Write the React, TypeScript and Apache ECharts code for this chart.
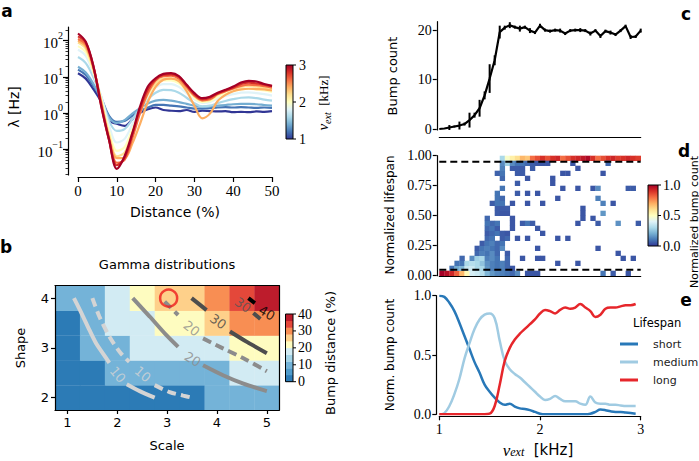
import React, { useEffect, useRef } from "react";
import * as echarts from "echarts";

// ---------------- Panel a : rate vs distance ----------------
const distance = [0, 2, 4, 6, 8, 10, 12, 14, 16, 18, 20, 22, 24, 26, 28, 30, 32, 34, 36, 38, 40, 42, 44, 46, 48, 50];
const nuExt = [1.0, 1.2, 1.4, 1.6, 1.8, 2.0, 2.2, 2.4, 2.6, 2.8, 3.0];
// log10 of the rate (Hz), one row per nu_ext
const log10Rate = [
  [1.1, 0.95, 0.65, 0.3, -0.22, -0.3, -0.36, -0.18, 0.0, 0.1, 0.15, 0.08, 0.06, 0.05, 0.08, 0.03, 0.06, 0.05, 0.04, 0.05, 0.02, 0.03, 0.02, 0.04, 0.03, 0.05],
  [1.2, 1.05, 0.75, 0.4, -0.08, -0.25, -0.22, -0.08, 0.05, 0.15, 0.22, 0.22, 0.2, 0.18, 0.15, 0.12, 0.12, 0.13, 0.15, 0.16, 0.15, 0.16, 0.15, 0.14, 0.15, 0.14],
  [1.28, 1.12, 0.8, 0.38, -0.12, -0.28, -0.2, -0.02, 0.13, 0.26, 0.34, 0.36, 0.34, 0.3, 0.25, 0.2, 0.17, 0.18, 0.2, 0.22, 0.24, 0.25, 0.25, 0.24, 0.22, 0.2],
  [1.55, 1.38, 0.98, 0.45, -0.22, -0.5, -0.45, -0.18, 0.12, 0.38, 0.56, 0.64, 0.63, 0.56, 0.42, 0.27, 0.18, 0.2, 0.27, 0.33, 0.38, 0.42, 0.43, 0.41, 0.37, 0.34],
  [1.75, 1.58, 1.08, 0.45, -0.35, -0.82, -0.72, -0.32, 0.08, 0.45, 0.7, 0.8, 0.8, 0.72, 0.55, 0.38, 0.28, 0.3, 0.4, 0.47, 0.52, 0.56, 0.57, 0.55, 0.52, 0.48],
  [1.85, 1.68, 1.13, 0.38, -0.5, -1.05, -0.95, -0.45, 0.04, 0.5, 0.78, 0.9, 0.9, 0.82, 0.62, 0.42, 0.3, 0.33, 0.45, 0.55, 0.6, 0.65, 0.67, 0.65, 0.62, 0.58],
  [1.95, 1.78, 1.18, 0.3, -0.6, -1.2, -1.1, -0.55, 0.0, 0.52, 0.82, 0.95, 0.96, 0.88, 0.68, 0.46, 0.33, 0.36, 0.5, 0.6, 0.67, 0.72, 0.75, 0.73, 0.7, 0.66],
  [2.0, 1.84, 1.24, 0.3, -0.68, -1.25, -1.25, -0.85, -0.3, 0.3, 0.72, 0.92, 0.95, 0.88, 0.6, 0.2, -0.15, -0.02, 0.33, 0.5, 0.6, 0.65, 0.67, 0.66, 0.65, 0.62],
  [2.05, 1.9, 1.25, 0.25, -0.72, -1.38, -1.3, -0.7, 0.0, 0.55, 0.9, 1.02, 1.03, 0.95, 0.72, 0.48, 0.35, 0.38, 0.52, 0.6, 0.68, 0.75, 0.78, 0.77, 0.74, 0.7],
  [2.12, 1.95, 1.28, 0.2, -0.75, -1.45, -1.25, -0.6, 0.12, 0.65, 0.93, 1.05, 1.07, 1.0, 0.76, 0.52, 0.38, 0.42, 0.54, 0.62, 0.7, 0.8, 0.84, 0.82, 0.78, 0.74],
  [2.2, 1.97, 1.28, 0.18, -0.74, -1.55, -1.2, -0.56, 0.18, 0.73, 0.96, 1.08, 1.1, 1.02, 0.78, 0.55, 0.41, 0.45, 0.56, 0.64, 0.73, 0.84, 0.89, 0.87, 0.8, 0.75],
];
const rateDecades = [-1, 0, 1, 2];
const rateLogRange = [-1.72, 2.38];
const nuColorTicks = [1, 2, 3];

// ---------------- Panel b : gamma distributions ----------------
const gammaScale = [1, 1.5, 2, 2.5, 3, 3.5, 4, 4.5, 5];
const gammaShape = [2, 2.5, 3, 3.5, 4];
// bump distance (%), one row per shape (bottom to top), one column per scale
const bumpDistance = [
  [2, 2, 2, 2, 2, 2, 9, 9, 9],
  [2, 2, 9, 9, 9, 9, 9, 17, 17],
  [2, 9, 9, 17, 17, 17, 17, 22, 22],
  [2, 9, 17, 17, 22, 22, 26, 30, 30],
  [9, 9, 17, 22, 26, 26, 30, 34, 39],
];
const bumpDistanceTicks = [0, 10, 20, 30, 40];
const bumpDistanceBinWidth = 4;
const bumpDistanceColors = ["#2c7bb6", "#4f9bcb", "#74b3d8", "#a3d3e6", "#d2ebf3", "#fefcc0", "#fed08a", "#f88e53", "#e4483a", "#bd1c2c"];
const contourLines = [
  { level: 10, dashed: false, color: "#d4d4d4", segments: [[[1.13, 4.0], [1.29, 3.68], [1.44, 3.36], [1.58, 3.08], [1.71, 2.89], [1.84, 2.7]], [[2.19, 2.27], [2.45, 2.13], [2.75, 2.0]]] },
  { level: 10, dashed: true, color: "#d4d4d4", segments: [[[1.5, 4.0], [1.64, 3.63], [1.84, 3.23], [2.07, 2.89], [2.24, 2.72]], [[2.75, 2.25], [3.05, 2.11], [3.32, 2.04], [3.49, 2.0]]] },
  { level: 20, dashed: false, color: "#8c8c8c", segments: [[[2.31, 4.0], [2.65, 3.63], [2.98, 3.26], [3.22, 3.02]], [[3.72, 2.65], [4.12, 2.45], [4.53, 2.28], [5.0, 2.13]]] },
  { level: 20, dashed: true, color: "#8c8c8c", segments: [[[2.95, 3.93], [3.22, 3.66]], [[3.72, 3.19], [4.12, 2.99], [4.53, 2.79], [5.0, 2.53]]] },
  { level: 30, dashed: false, color: "#4d4d4d", segments: [[[3.49, 4.0], [3.79, 3.76]], [[4.26, 3.33], [4.6, 3.12], [5.0, 2.89]]] },
  { level: 30, dashed: true, color: "#4d4d4d", segments: [[[4.73, 3.7], [4.93, 3.53]]] },
  { level: 40, dashed: false, color: "#000000", segments: [[[4.63, 4.0], [4.76, 3.9]]] },
];
const contourLabels = [
  { level: 10, scale: 2.01, shape: 2.46, rotate: -50, color: "#d4d4d4" },
  { level: 10, scale: 2.51, shape: 2.47, rotate: -40, color: "#d4d4d4" },
  { level: 20, scale: 3.51, shape: 2.77, rotate: -30, color: "#8c8c8c" },
  { level: 20, scale: 3.49, shape: 3.39, rotate: -38, color: "#8c8c8c" },
  { level: 30, scale: 4.02, shape: 3.53, rotate: -35, color: "#444444" },
  { level: 30, scale: 4.52, shape: 3.86, rotate: -35, color: "#555555" },
  { level: 40, scale: 5.0, shape: 3.7, rotate: -30, color: "#000000" },
];
const selectedGamma = [3.03, 4.0];

// ---------------- Panel c : bump count ----------------
const nuCount = [1.0, 1.05, 1.1, 1.15, 1.2, 1.25, 1.3, 1.35, 1.4, 1.45, 1.5, 1.55, 1.6, 1.65, 1.7, 1.75, 1.8, 1.85, 1.9, 1.95, 2.0, 2.05, 2.1, 2.15, 2.2, 2.25, 2.3, 2.35, 2.4, 2.45, 2.5, 2.55, 2.6, 2.65, 2.7, 2.75, 2.8, 2.85, 2.9, 2.95, 3.0];
const bumpCount = [0, 0.1, 0.3, 0.5, 0.7, 1.0, 1.8, 2.8, 4.2, 6.8, 10.2, 13.9, 19.6, 20.5, 21.0, 20.6, 20.3, 20.6, 19.9, 19.5, 20.9, 20.0, 19.8, 20.0, 19.9, 19.3, 19.9, 20.0, 20.0, 19.9, 19.3, 19.9, 18.8, 19.8, 19.5, 19.1, 19.9, 20.8, 18.6, 18.7, 19.9];
const bumpCountErr = [0, 0.1, 0.5, 0.2, 0.8, 0.3, 1.5, 0.5, 1.7, 0.8, 2.9, 1.0, 1.3, 0.4, 0.6, 0.3, 0.6, 0.3, 0.5, 0.3, 0.4, 0.3, 0.3, 0.3, 0.4, 0.3, 0.3, 0.3, 0.4, 0.3, 0.4, 0.3, 0.4, 0.3, 0.4, 0.3, 0.3, 0.3, 0.4, 0.3, 0.4];
const bumpCountTicks = [0, 10, 20];

// ---------------- Panel d : lifespan histogram ----------------
const nuDomain = [1, 3];
const lifespanCols = 40;
const lifespanRows = 24;
const lifespanTopRowStart = 12; // column index of first cell in the top row
const lifespanTopRow = [0.3, 0.48, 0.55, 0.6, 0.68, 0.65, 0.8, 0.85, 0.9, 0.85, 0.9, 0.92, 0.8, 0.85, 0.9, 0.92, 0.95, 0.98, 0.9, 0.8, 0.85, 0.9, 0.92, 0.88, 0.9, 0.92, 0.9, 0.88];
const lifespanBottomRow = [1.0, 0.97, 0.92, 0.82, 0.68, 0.52, 0.38, 0.36, 0.32, 0.22, 0.16, 0.13, 0.12, 0.1, 0.08, 0.14];
// [column, row, normalized count]
const lifespanCells = [
  [17, 0, 0.05], [18, 0, 0.05], [19, 0, 0.05], [32, 0, 0.1], [34, 0, 0.06], [37, 0, 0.05],
  [2, 1, 0.1], [3, 1, 0.2], [4, 1, 0.22], [5, 1, 0.35], [6, 1, 0.36], [7, 1, 0.3], [8, 1, 0.3], [9, 1, 0.16], [10, 1, 0.12], [11, 1, 0.1], [12, 1, 0.12], [13, 1, 0.08], [14, 1, 0.05],
  [3, 2, 0.1], [4, 2, 0.1], [5, 2, 0.3], [6, 2, 0.32], [7, 2, 0.3], [8, 2, 0.25], [9, 2, 0.15], [10, 2, 0.12], [11, 2, 0.1], [12, 2, 0.12], [13, 2, 0.08], [23, 2, 0.05], [27, 2, 0.05],
  [4, 3, 0.08], [6, 3, 0.14], [7, 3, 0.28], [8, 3, 0.3], [9, 3, 0.12], [10, 3, 0.14], [11, 3, 0.1], [13, 3, 0.08], [16, 3, 0.05], [19, 3, 0.05], [20, 3, 0.05], [36, 3, 0.05], [38, 3, 0.05],
  [7, 4, 0.08], [8, 4, 0.12], [9, 4, 0.1], [10, 4, 0.14], [11, 4, 0.08], [13, 4, 0.06], [35, 4, 0.05],
  [7, 5, 0.06], [8, 5, 0.1], [9, 5, 0.12], [10, 5, 0.1], [11, 5, 0.08], [12, 5, 0.14], [19, 5, 0.05], [31, 5, 0.05],
  [8, 6, 0.06], [9, 6, 0.1], [10, 6, 0.12], [11, 6, 0.08], [12, 6, 0.1],
  [9, 7, 0.08], [10, 7, 0.1], [12, 7, 0.06], [13, 7, 0.08], [15, 7, 0.05], [17, 7, 0.05], [23, 7, 0.05], [25, 7, 0.05],
  [9, 8, 0.06], [10, 8, 0.08], [11, 8, 0.1], [12, 8, 0.06], [13, 8, 0.05], [20, 8, 0.05],
  [9, 9, 0.08], [10, 9, 0.1], [11, 9, 0.06], [14, 9, 0.05], [19, 9, 0.05],
  [9, 10, 0.1], [10, 10, 0.08], [11, 10, 0.1], [14, 10, 0.05], [16, 10, 0.06], [17, 10, 0.1], [18, 10, 0.06], [27, 10, 0.05], [31, 10, 0.06], [35, 10, 0.15], [39, 10, 0.06],
  [9, 11, 0.08], [14, 11, 0.05], [28, 11, 0.05], [30, 11, 0.05],
  [11, 12, 0.06], [12, 12, 0.05], [13, 12, 0.05], [28, 12, 0.05], [32, 12, 0.16],
  [11, 13, 0.06], [12, 13, 0.06], [13, 13, 0.06], [28, 13, 0.05],
  [10, 14, 0.06], [11, 14, 0.1], [12, 14, 0.1], [14, 14, 0.05], [17, 14, 0.05], [20, 14, 0.05], [32, 14, 0.12], [34, 14, 0.05],
  [11, 15, 0.1], [12, 15, 0.08], [23, 15, 0.05], [31, 15, 0.12],
  [11, 16, 0.1], [15, 16, 0.06], [17, 16, 0.05], [19, 16, 0.05],
  [12, 17, 0.1], [24, 17, 0.05], [27, 17, 0.05], [30, 17, 0.05], [31, 17, 0.14], [37, 17, 0.06], [38, 17, 0.06],
  [15, 18, 0.06], [22, 18, 0.05],
  [12, 19, 0.08], [17, 19, 0.05], [22, 19, 0.05],
  [11, 20, 0.07], [12, 20, 0.1], [15, 20, 0.06], [16, 20, 0.06], [24, 20, 0.05], [25, 20, 0.05], [32, 20, 0.05],
  [12, 21, 0.12], [14, 21, 0.06], [15, 21, 0.06], [16, 21, 0.06], [18, 21, 0.06], [27, 21, 0.05],
  [12, 22, 0.14], [13, 22, 0.28], [14, 22, 0.14], [15, 22, 0.1], [16, 22, 0.1], [17, 22, 0.08], [18, 22, 0.06], [19, 22, 0.05], [20, 22, 0.05], [21, 22, 0.05], [26, 22, 0.05], [33, 22, 0.08],
];
const lifespanThresholds = [0.05, 0.95];
const lifespanTicks = [0, 0.25, 0.5, 0.75, 1];
const normCountTicks = [0, 0.5, 1];

// ---------------- Panel e : lifespan shares ----------------
const nuShare = [1.0, 1.05, 1.1, 1.15, 1.2, 1.25, 1.3, 1.35, 1.4, 1.45, 1.5, 1.55, 1.6, 1.65, 1.7, 1.75, 1.8, 1.85, 1.9, 1.95, 2.0, 2.05, 2.1, 2.15, 2.2, 2.25, 2.3, 2.35, 2.4, 2.45, 2.5, 2.55, 2.6, 2.65, 2.7, 2.75, 2.8, 2.85, 2.9, 2.95];
const shortShare = [1.0, 0.99, 0.94, 0.87, 0.77, 0.66, 0.55, 0.44, 0.35, 0.25, 0.19, 0.14, 0.1, 0.08, 0.09, 0.065, 0.05, 0.045, 0.035, 0.02, 0.005, 0, 0, 0, 0, 0, 0, 0, 0, 0, 0.005, 0.02, 0.04, 0.035, 0.025, 0.02, 0.02, 0.015, 0.01, 0.005];
const mediumShare = [0, 0.01, 0.07, 0.17, 0.3, 0.47, 0.6, 0.72, 0.8, 0.84, 0.85, 0.81, 0.62, 0.45, 0.38, 0.34, 0.31, 0.27, 0.23, 0.19, 0.15, 0.12, 0.13, 0.155, 0.13, 0.11, 0.11, 0.11, 0.09, 0.08, 0.15, 0.1, 0.09, 0.09, 0.08, 0.08, 0.075, 0.07, 0.07, 0.07];
const longShare = [0, 0, 0, 0, 0, 0, 0, 0, 0, 0, 0.005, 0.07, 0.25, 0.45, 0.56, 0.63, 0.68, 0.72, 0.76, 0.8, 0.85, 0.88, 0.87, 0.85, 0.88, 0.9, 0.89, 0.9, 0.93, 0.9, 0.87, 0.82, 0.84, 0.89, 0.9, 0.9, 0.91, 0.92, 0.92, 0.93];
const lifespanNames = ["short", "medium", "long"];
const lifespanColors = ["#2878b8", "#a0cbe2", "#e6262b"];

// ---------------- helpers ----------------
const RDYLBU_R = ["#313695", "#4575b4", "#74add1", "#abd9e9", "#e0f3f8", "#ffffbf", "#fee090", "#fdae61", "#f46d43", "#d73027", "#a50026"];
const SERIF = '"Liberation Serif", "DejaVu Serif", serif';
const SANS = '"DejaVu Sans", "Noto Sans", sans-serif';

function hexRgb(h: string) {
  return [1, 3, 5].map((i) => parseInt(h.slice(i, i + 2), 16));
}
function rdylbuR(t: number) {
  const tt = Math.max(0, Math.min(1, t));
  const p = tt * (RDYLBU_R.length - 1);
  const i = Math.min(Math.floor(p), RDYLBU_R.length - 2);
  const f = p - i;
  const a = hexRgb(RDYLBU_R[i]);
  const b = hexRgb(RDYLBU_R[i + 1]);
  const c = a.map((v, k) => Math.round(v + (b[k] - v) * f));
  return `rgb(${c[0]},${c[1]},${c[2]})`;
}
function binColor(v: number) {
  return bumpDistanceColors[Math.min(bumpDistanceColors.length - 1, Math.floor(v / bumpDistanceBinWidth))];
}

const AXLINE = { show: true, onZero: false, lineStyle: { color: "#000", width: 1.2 } };
const AXTICK = { show: true, length: 4, lineStyle: { color: "#000", width: 1.2 } };

function buildOption() {
  const minorLogTicks: number[] = [];
  for (let e = -2; e <= 2; e++) {
    for (let k = 2; k <= 9; k++) {
      const v = e + Math.log10(k);
      if (v > rateLogRange[0] && v < rateLogRange[1]) minorLogTicks.push(v);
    }
  }

  const series: any[] = [];

  // a: rate curves
  nuExt.forEach((nu, k) => {
    series.push({
      type: "line",
      xAxisIndex: 0,
      yAxisIndex: 0,
      data: distance.map((d, i) => [d, log10Rate[k][i]]),
      smooth: 0.35,
      symbol: "none",
      lineStyle: { color: rdylbuR((nu - 1) / 2), width: 2.2 },
      silent: true,
    });
  });

  // b: heatmap
  const bData: number[][] = [];
  gammaShape.forEach((sh, r) => gammaScale.forEach((sc, c) => bData.push([sc, sh, bumpDistance[r][c]])));
  series.push({
    type: "custom",
    xAxisIndex: 1,
    yAxisIndex: 2,
    z: 1,
    silent: true,
    data: bData,
    renderItem: (_p: any, api: any) => {
      const sc = api.value(0), sh = api.value(1), v = api.value(2);
      const p0 = api.coord([sc - 0.25, sh + 0.25]);
      const p1 = api.coord([sc + 0.25, sh - 0.25]);
      return {
        type: "rect",
        shape: { x: p0[0], y: p0[1], width: p1[0] - p0[0] + 0.4, height: p1[1] - p0[1] + 0.4 },
        style: { fill: binColor(v) },
      };
    },
  });
  contourLines.forEach((c) => {
    c.segments.forEach((seg) => {
      series.push({
        type: "line",
        xAxisIndex: 1,
        yAxisIndex: 2,
        z: 3,
        data: seg,
        smooth: 0.3,
        symbol: "none",
        silent: true,
        lineStyle: { color: c.color, width: 4, type: c.dashed ? [9, 5] : "solid", cap: "butt" },
      });
    });
  });
  series.push({
    type: "scatter",
    xAxisIndex: 1,
    yAxisIndex: 2,
    z: 4,
    symbolSize: 1,
    silent: true,
    itemStyle: { color: "rgba(0,0,0,0)" },
    data: contourLabels.map((l) => ({
      value: [l.scale, l.shape],
      name: String(l.level),
      label: { rotate: l.rotate, color: l.color },
    })),
    label: { show: true, position: "inside", formatter: "{b}", fontFamily: SANS, fontSize: 13 },
  });
  series.push({
    type: "scatter",
    xAxisIndex: 1,
    yAxisIndex: 2,
    z: 5,
    silent: true,
    data: [selectedGamma],
    symbol: "circle",
    symbolSize: 17,
    itemStyle: { color: "rgba(0,0,0,0)", borderColor: "#ee1c1c", borderWidth: 2.5 },
  });

  // c: bump count
  series.push({
    type: "line",
    xAxisIndex: 3,
    yAxisIndex: 4,
    data: nuCount.map((x, i) => [x, bumpCount[i]]),
    symbol: "none",
    silent: true,
    lineStyle: { color: "#000", width: 2.2 },
  });
  series.push({
    type: "custom",
    xAxisIndex: 3,
    yAxisIndex: 4,
    silent: true,
    data: nuCount.map((x, i) => [x, bumpCount[i], bumpCountErr[i]]),
    renderItem: (_p: any, api: any) => {
      const x = api.value(0), y = api.value(1), e = api.value(2);
      const a = api.coord([x, y - e]);
      const b = api.coord([x, y + e]);
      return { type: "line", shape: { x1: a[0], y1: a[1], x2: b[0], y2: b[1] }, style: { stroke: "#000", lineWidth: 2 } };
    },
  });

  // d: lifespan heatmap
  const colW = (nuDomain[1] - nuDomain[0]) / lifespanCols;
  const rowH = 1 / lifespanRows;
  const dCells: number[][] = [];
  lifespanTopRow.forEach((v, i) => dCells.push([lifespanTopRowStart + i, lifespanRows - 1, v]));
  lifespanBottomRow.forEach((v, i) => dCells.push([i, 0, v]));
  lifespanCells.forEach((c) => dCells.push(c));
  series.push({
    type: "custom",
    xAxisIndex: 4,
    yAxisIndex: 5,
    silent: true,
    data: dCells.map(([c, r, v]) => [nuDomain[0] + (c + 0.5) * colW, (r + 0.5) * rowH, v]),
    renderItem: (_p: any, api: any) => {
      const x = api.value(0), y = api.value(1), v = api.value(2);
      const p0 = api.coord([x - colW / 2, y + rowH / 2]);
      const p1 = api.coord([x + colW / 2, y - rowH / 2]);
      return {
        type: "rect",
        shape: { x: p0[0], y: p0[1], width: p1[0] - p0[0] + 0.3, height: p1[1] - p0[1] + 0.3 },
        style: { fill: rdylbuR(v) },
      };
    },
  });
  lifespanThresholds.forEach((t) => {
    series.push({
      type: "line",
      xAxisIndex: 4,
      yAxisIndex: 5,
      z: 4,
      silent: true,
      symbol: "none",
      data: [[nuDomain[0], t], [nuDomain[1], t]],
      lineStyle: { color: "#000", width: 2, type: [7, 4] },
    });
  });

  // e: shares
  [shortShare, mediumShare, longShare].forEach((arr, k) => {
    series.push({
      name: lifespanNames[k],
      type: "line",
      xAxisIndex: 5,
      yAxisIndex: 6,
      data: nuShare.map((x, i) => [x, arr[i]]),
      smooth: 0.4,
      symbol: "none",
      silent: true,
      color: lifespanColors[k],
      itemStyle: { color: lifespanColors[k] },
      lineStyle: { color: lifespanColors[k], width: 2.5 },
    });
  });

  const serifLabel = (size: number, extra: any = {}) => ({ color: "#000", fontFamily: SERIF, fontSize: size, ...extra });

  const xAxis: any[] = [
    { gridIndex: 0, type: "value", min: 0, max: 50, interval: 10, offset: 2, axisLine: AXLINE, axisTick: { ...AXTICK, length: 5 }, axisLabel: serifLabel(15, { margin: 6 }), splitLine: { show: false } },
    { gridIndex: 1, type: "value", min: 0.75, max: 5.25, z: 6, axisLine: AXLINE, axisTick: { ...AXTICK, customValues: [1, 2, 3, 4, 5] }, axisLabel: { customValues: [1, 2, 3, 4, 5], color: "#000", fontFamily: SANS, fontSize: 13, margin: 6 }, splitLine: { show: false } },
    { gridIndex: 1, type: "value", position: "top", min: 0.75, max: 5.25, z: 6, axisLine: AXLINE, axisTick: { show: false }, axisLabel: { show: false }, splitLine: { show: false } },
    { gridIndex: 2, type: "value", min: 1, max: 3, offset: 7, axisLine: AXLINE, axisTick: { show: false }, axisLabel: { show: false }, splitLine: { show: false } },
    { gridIndex: 3, type: "value", min: 1, max: 3, offset: 1, axisLine: AXLINE, axisTick: { show: false }, axisLabel: { show: false }, splitLine: { show: false } },
    { gridIndex: 4, type: "value", min: 1, max: 3, interval: 1, offset: 2, axisLine: AXLINE, axisTick: AXTICK, axisLabel: serifLabel(14, { margin: 6 }), splitLine: { show: false } },
    { gridIndex: 5, type: "value", min: 0, max: 50, axisLine: { show: false, onZero: false }, axisTick: { show: false }, axisLabel: { show: false }, splitLine: { show: false } },
  ];
  const yAxis: any[] = [
    {
      gridIndex: 0, type: "value", min: rateLogRange[0], max: rateLogRange[1], offset: 10,
      axisLine: AXLINE,
      axisTick: { ...AXTICK, length: 5, customValues: rateDecades },
      axisLabel: {
        customValues: rateDecades,
        margin: 5,
        formatter: (v: number) => {
          const e = Math.round(v);
          return `{b|10}{s|${e < 0 ? "\u2212" + -e : e}}`;
        },
        rich: {
          b: { fontFamily: SERIF, fontSize: 15, color: "#000", verticalAlign: "bottom", lineHeight: 20 },
          s: { fontFamily: SERIF, fontSize: 10, color: "#000", verticalAlign: "top", lineHeight: 20 },
        },
      },
      splitLine: { show: false },
    },
    {
      gridIndex: 5, type: "value", min: rateLogRange[0], max: rateLogRange[1], offset: 10,
      axisLine: { show: false, onZero: false },
      axisTick: { show: true, length: 2.5, lineStyle: { color: "#000", width: 0.8 }, customValues: minorLogTicks },
      axisLabel: { show: false },
      splitLine: { show: false },
    },
    { gridIndex: 1, type: "value", min: 1.75, max: 4.25, z: 6, axisLine: AXLINE, axisTick: { ...AXTICK, customValues: [2, 3, 4] }, axisLabel: { customValues: [2, 3, 4], color: "#000", fontFamily: SANS, fontSize: 13, margin: 6 }, splitLine: { show: false } },
    { gridIndex: 1, type: "value", position: "right", min: 1.75, max: 4.25, z: 6, axisLine: AXLINE, axisTick: { show: false }, axisLabel: { show: false }, splitLine: { show: false } },
    { gridIndex: 2, type: "value", min: -0.2, max: 21.7, offset: 2.5, axisLine: AXLINE, axisTick: { ...AXTICK, customValues: bumpCountTicks }, axisLabel: serifLabel(14, { customValues: bumpCountTicks, margin: 5 }), splitLine: { show: false } },
    { gridIndex: 3, type: "value", min: 0, max: 1, offset: 2.5, axisLine: AXLINE, axisTick: { ...AXTICK, customValues: lifespanTicks }, axisLabel: serifLabel(14, { customValues: lifespanTicks, margin: 5, formatter: (v: number) => v.toFixed(2) }), splitLine: { show: false } },
    { gridIndex: 4, type: "value", min: 0, max: 1, offset: 3, axisLine: AXLINE, axisTick: { ...AXTICK, customValues: normCountTicks }, axisLabel: serifLabel(14, { customValues: normCountTicks, margin: 5, formatter: (v: number) => v.toFixed(1) }), splitLine: { show: false } },
  ];

  const grid = [
    { left: 78, top: 27, width: 194, height: 148 },
    { left: 55, top: 285.7, width: 224.3, height: 124.3 },
    { left: 439.3, top: 21.7, width: 201.4, height: 108.3 },
    { left: 439.3, top: 155.7, width: 201.4, height: 120 },
    { left: 439.3, top: 295.7, width: 201.4, height: 118.6 },
    { left: 78, top: 27, width: 194, height: 148 },
  ].map((g) => ({ ...g, containLabel: false, outerBoundsMode: "none" }));

  const txt = (text: string, x: number, y: number, opts: any = {}, rotation = 0) => ({
    type: "text",
    x,
    y,
    rotation,
    silent: true,
    style: { text, fill: "#000", fontFamily: SANS, fontSize: 13, align: "center", verticalAlign: "middle", ...opts },
  });
  const tick = (x1: number, y1: number, x2: number, y2: number) => ({
    type: "line",
    silent: true,
    shape: { x1, y1, x2, y2 },
    style: { stroke: "#000", lineWidth: 1 },
  });
  const nuRich = (size: number, unitFont: string, lh: number) => ({
    i: { fontFamily: SERIF, fontStyle: "italic", fontSize: size, verticalAlign: "middle", lineHeight: lh, fill: "#000", color: "#000" },
    s: { fontFamily: SERIF, fontStyle: "italic", fontSize: Math.round(size * 0.68), verticalAlign: "bottom", lineHeight: lh, fill: "#000", color: "#000" },
    t: { fontFamily: unitFont, fontSize: size - 2, verticalAlign: "middle", lineHeight: lh, fill: "#000", color: "#000" },
  });

  const gradStops = RDYLBU_R.map((c, i) => ({ offset: i / (RDYLBU_R.length - 1), color: c }));
  const graphic: any[] = [];
  // panel letters
  [["a", 7, 11], ["b", 6, 247], ["c", 686, 14], ["d", 684, 151], ["e", 686, 300]].forEach(([t, x, y]) =>
    graphic.push(txt(t as string, x as number, y as number, { fontWeight: "bold", fontSize: 17 }))
  );
  // axis titles
  graphic.push(txt("\u03bb [Hz]", 14, 107, { fontSize: 14 }, Math.PI / 2));
  graphic.push(txt("Distance (%)", 175, 211.5, { fontSize: 14 }));
  graphic.push(txt("Gamma distributions", 167, 264, { fontSize: 13 }));
  graphic.push(txt("Shape", 20, 348, { fontSize: 13 }, Math.PI / 2));
  graphic.push(txt("Scale", 167, 445, { fontSize: 13 }));
  graphic.push(txt("Bump count", 392, 76, { fontSize: 13 }, Math.PI / 2));
  graphic.push(txt("Normalized lifespan", 390, 215, { fontSize: 12 }, Math.PI / 2));
  graphic.push(txt("Norm. bump count", 390, 355, { fontSize: 12 }, Math.PI / 2));
  graphic.push(txt("{i|\u03bd}{s|ext}{t|  [kHz]}", 538, 450, { rich: nuRich(17, SANS, 16) }));
  graphic.push(txt("Lifespan", 633, 323, { fontSize: 11.5, align: "left" }));

  // colorbar a
  const cbA = { x: 286, y: 65, w: 7, h: 74 };
  graphic.push({
    type: "rect", silent: true,
    shape: { x: cbA.x, y: cbA.y, width: cbA.w, height: cbA.h },
    style: { fill: new echarts.graphic.LinearGradient(0, 1, 0, 0, gradStops), stroke: "#000", lineWidth: 1 },
  });
  nuColorTicks.forEach((v) => {
    const y = cbA.y + cbA.h - ((v - 1) / 2) * cbA.h;
    graphic.push(tick(cbA.x + cbA.w, y, cbA.x + cbA.w + 3, y));
    graphic.push(txt(String(v), cbA.x + cbA.w + 6, y, { fontFamily: SERIF, fontSize: 14, align: "left" }));
  });
  graphic.push(txt("{i|\u03bd}{s|ext}{t|  [kHz]}", 323, 103, { rich: nuRich(15, SERIF, 18) }, Math.PI / 2));

  // colorbar b (discrete)
  const cbB = { x: 285.5, y: 314, w: 7.5, h: 67.7 };
  const nBins = bumpDistanceColors.length;
  bumpDistanceColors.forEach((c, i) => {
    graphic.push({
      type: "rect", silent: true,
      shape: { x: cbB.x, y: cbB.y + cbB.h - ((i + 1) * cbB.h) / nBins, width: cbB.w, height: cbB.h / nBins + 0.3 },
      style: { fill: c },
    });
  });
  graphic.push({ type: "rect", silent: true, shape: { x: cbB.x, y: cbB.y, width: cbB.w, height: cbB.h }, style: { fill: "none", stroke: "#000", lineWidth: 1 } });
  const bMax = nBins * bumpDistanceBinWidth;
  bumpDistanceTicks.forEach((v) => {
    const y = cbB.y + cbB.h - (v / bMax) * cbB.h;
    graphic.push(tick(cbB.x + cbB.w, y, cbB.x + cbB.w + 3, y));
    graphic.push(txt(String(v), cbB.x + cbB.w + 5, y, { fontFamily: SERIF, fontSize: 14, align: "left" }));
  });
  graphic.push(txt("Bump distance (%)", 330, 353, { fontSize: 13 }, Math.PI / 2));

  // colorbar d
  const cbD = { x: 648, y: 185, w: 10, h: 61 };
  graphic.push({
    type: "rect", silent: true,
    shape: { x: cbD.x, y: cbD.y, width: cbD.w, height: cbD.h },
    style: { fill: new echarts.graphic.LinearGradient(0, 1, 0, 0, gradStops), stroke: "#000", lineWidth: 1 },
  });
  normCountTicks.forEach((v) => {
    const y = cbD.y + cbD.h - v * cbD.h;
    graphic.push(tick(cbD.x + cbD.w, y, cbD.x + cbD.w + 3, y));
    graphic.push(txt(v.toFixed(1), cbD.x + cbD.w + 5, y, { fontFamily: SERIF, fontSize: 14, align: "left" }));
  });
  graphic.push(txt("Normalized bump count", 694, 222, { fontSize: 11 }, Math.PI / 2));

  return {
    animation: false,
    backgroundColor: "#fff",
    grid,
    xAxis,
    yAxis,
    series,
    graphic,
    legend: {
      data: lifespanNames,
      orient: "vertical",
      left: 615,
      top: 332,
      icon: "rect",
      itemWidth: 18,
      itemHeight: 3,
      itemGap: 4,
      selectedMode: false,
      textStyle: { fontFamily: SANS, fontSize: 11, lineHeight: 14, color: "#222", padding: [0, 0, 0, 10] },
    },
  };
}

export default function App() {
  const ref = useRef<HTMLDivElement>(null);
  useEffect(() => {
    document.body.style.margin = "0";
    const chart = echarts.init(ref.current as HTMLDivElement, null, { renderer: "svg" });
    chart.setOption(buildOption() as any);
    return () => chart.dispose();
  }, []);
  return <div ref={ref} style={{ width: 699, height: 461 }} />;
}
